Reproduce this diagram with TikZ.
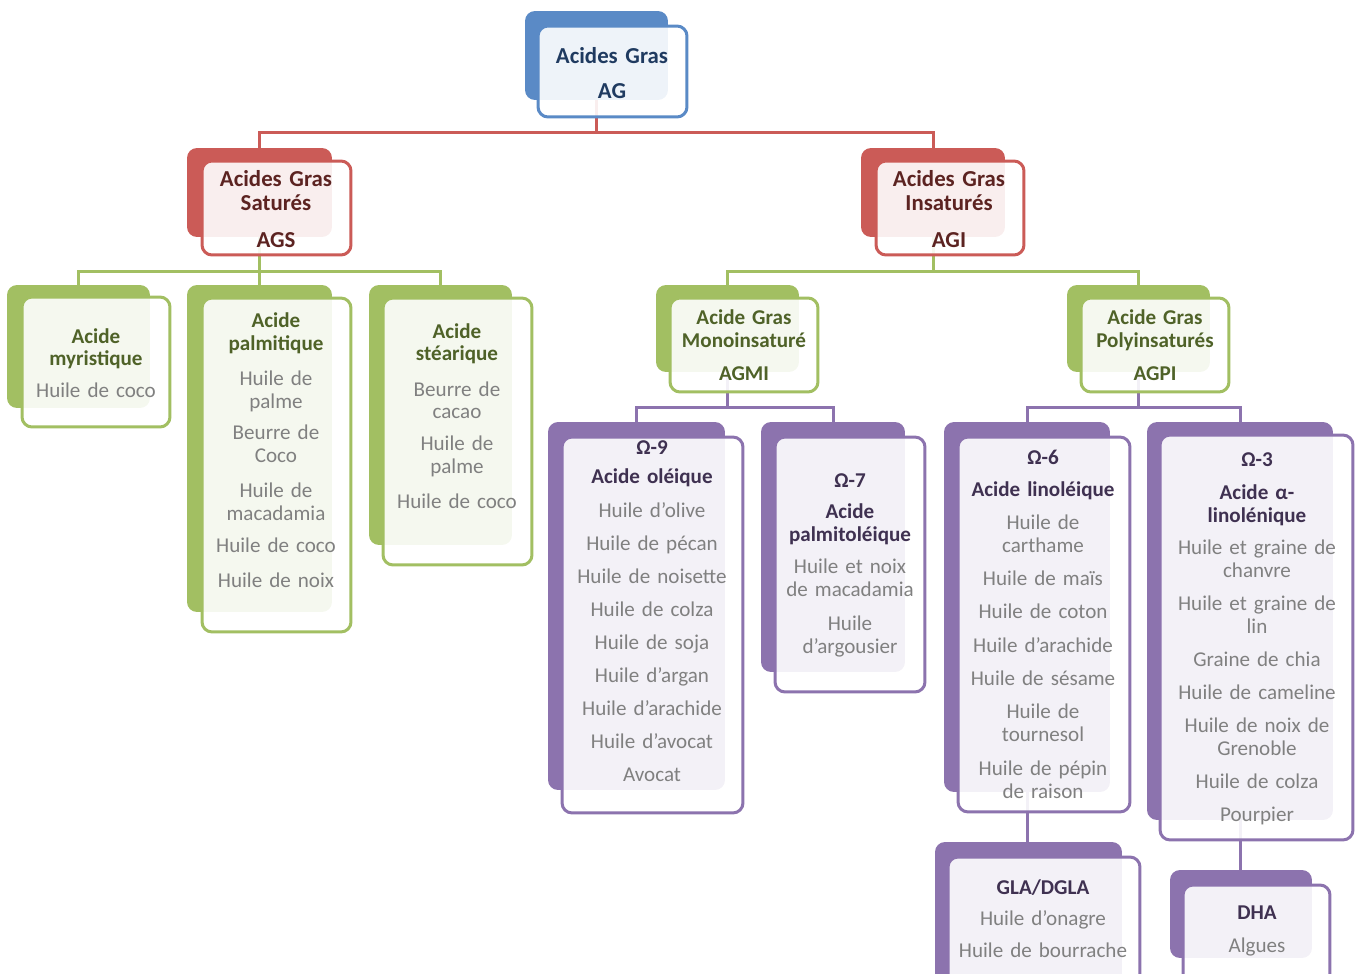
\documentclass[tikz,border=0pt]{standalone}
\usepackage{fontspec}
\setmainfont{Carlito}
\usepackage{tikz}
\definecolor{agblue}{HTML}{5A8AC6}
\definecolor{agred}{HTML}{CB5B57}
\definecolor{aggreen}{HTML}{A2BF62}
\definecolor{agviolet}{HTML}{8C73AE}
\definecolor{bluetxt}{HTML}{1F3A60}
\definecolor{redtxt}{HTML}{5C2321}
\definecolor{greentxt}{HTML}{4F6228}
\definecolor{violettxt}{HTML}{3F3151}
\definecolor{itemgray}{HTML}{808080}
\tikzstyle{back} = [rectangle, rounded corners = 0.2cm, inner sep = 0pt]
\tikzstyle{front} = [rectangle, rounded corners = 0.2cm, inner sep = 0pt, line width = 0.06cm, fill = white, fill opacity = 0.9]
\tikzstyle{txt} = [text width = 4cm, align = center, inner sep = 0pt, text = itemgray, font = \fontsize{12}{13}\selectfont]
\tikzstyle{toptxt} = [txt, font = \fontsize{13}{14}\selectfont]
\tikzstyle{link} = [line width = 0.06cm]

\begin{document}
\begin{tikzpicture}[x = 0.02cm, y = -0.02cm]
			\useasboundingbox (0, 0) rectangle (1357, 974);
			\clip (0, 0) rectangle (1357, 974);
			% Place nodes
			\node [back, fill = agblue, minimum width = 2.86cm, minimum height = 1.78cm] (ag-b) at (596.5, 55.5) {};
			\node [back, fill = agred, minimum width = 2.90cm, minimum height = 1.78cm] (ags-b) at (259.5, 192.5) {};
			\node [back, fill = agred, minimum width = 2.88cm, minimum height = 1.78cm] (agi-b) at (933, 192.5) {};
			\node [back, fill = aggreen, minimum width = 2.86cm, minimum height = 2.46cm] (myr-b) at (78.5, 346.5) {};
			\node [back, fill = aggreen, minimum width = 2.90cm, minimum height = 6.54cm] (palm-b) at (259.5, 448.5) {};
			\node [back, fill = aggreen, minimum width = 2.86cm, minimum height = 5.20cm] (stea-b) at (440.5, 415) {};
			\node [back, fill = aggreen, minimum width = 2.86cm, minimum height = 1.74cm] (agmi-b) at (727.5, 328.5) {};
			\node [back, fill = aggreen, minimum width = 2.86cm, minimum height = 1.74cm] (agpi-b) at (1138.5, 328.5) {};
			\node [back, fill = agviolet, minimum width = 3.54cm, minimum height = 7.36cm] (o9-b) at (636.5, 606) {};
			\node [back, fill = agviolet, minimum width = 2.88cm, minimum height = 5.00cm] (o7-b) at (833, 547) {};
			\node [back, fill = agviolet, minimum width = 3.32cm, minimum height = 7.40cm] (o6-b) at (1027, 607) {};
			\node [back, fill = agviolet, minimum width = 3.72cm, minimum height = 7.96cm] (o3-b) at (1240, 621) {};
			\node [back, fill = agviolet, minimum width = 3.74cm, minimum height = 2.96cm] (gla-b) at (1028.5, 916) {};
			\node [back, fill = agviolet, minimum width = 2.84cm, minimum height = 1.76cm] (dha-b) at (1241, 914) {};
			% Draw edges
			\path [link, draw = agred] (ag-b.south) -- ++(0, 32) -| (ags-b.north);
			\path [link, draw = agred] (ag-b.south) -- ++(0, 32) -| (agi-b.north);
			\path [link, draw = aggreen] (ags-b.south) -- ++(0, 34) -| (myr-b.north);
			\path [link, draw = aggreen] (ags-b.south) -- ++(0, 34) -| (palm-b.north);
			\path [link, draw = aggreen] (ags-b.south) -- ++(0, 34) -| (stea-b.north);
			\path [link, draw = aggreen] (agi-b.south) -- ++(0, 34) -| (agmi-b.north);
			\path [link, draw = aggreen] (agi-b.south) -- ++(0, 34) -| (agpi-b.north);
			\path [link, draw = agviolet] (agmi-b.south) -- ++(0, 35) -| (o9-b.north);
			\path [link, draw = agviolet] (agmi-b.south) -- ++(0, 35) -| (o7-b.north);
			\path [link, draw = agviolet] (agpi-b.south) -- ++(0, 35) -| (o6-b.north);
			\path [link, draw = agviolet] (agpi-b.south) -- ++(0, 35) -| (o3-b.north);
			\path [link, draw = agviolet] (o6-b.south) -- (o6-b.south |- gla-b.north);
			\path [link, draw = agviolet] (o3-b.south) -- (o3-b.south |- dha-b.north);
			% Front boxes
			\node [front, draw = agblue, minimum width = 2.98cm, minimum height = 1.82cm] (ag) at (612.5, 71.5) {};
			\node [front, draw = agred, minimum width = 2.98cm, minimum height = 1.88cm] (ags) at (276.5, 208) {};
			\node [front, draw = agred, minimum width = 2.96cm, minimum height = 1.88cm] (agi) at (950, 208) {};
			\node [front, draw = aggreen, minimum width = 2.96cm, minimum height = 2.60cm] (myr) at (96, 362) {};
			\node [front, draw = aggreen, minimum width = 2.98cm, minimum height = 6.68cm] (palm) at (276.5, 465) {};
			\node [front, draw = aggreen, minimum width = 2.98cm, minimum height = 5.34cm] (stea) at (457.5, 431.5) {};
			\node [front, draw = aggreen, minimum width = 2.96cm, minimum height = 1.88cm] (agmi) at (744, 345) {};
			\node [front, draw = aggreen, minimum width = 2.96cm, minimum height = 1.88cm] (agpi) at (1155, 345) {};
			\node [front, draw = agviolet, minimum width = 3.62cm, minimum height = 7.52cm] (o9) at (652.5, 625) {};
			\node [front, draw = agviolet, minimum width = 3.00cm, minimum height = 5.10cm] (o7) at (850, 564.5) {};
			\node [front, draw = agviolet, minimum width = 3.44cm, minimum height = 7.50cm] (o6) at (1044, 624.5) {};
			\node [front, draw = agviolet, minimum width = 3.86cm, minimum height = 8.10cm] (o3) at (1256.5, 637.5) {};
			\node [front, draw = agviolet, minimum width = 3.84cm, minimum height = 2.86cm] (gla) at (1044, 928.5) {};
			\node [front, draw = agviolet, minimum width = 2.94cm, minimum height = 2.00cm] (dha) at (1256.5, 935) {};
			% Texts
			\node [toptxt] (ag-t) at (612, 73) {\textcolor{bluetxt}{\bfseries Acides Gras\\[6pt] AG}};
			\node [toptxt] (ags-t) at (276, 209) {\textcolor{redtxt}{\bfseries Acides Gras\\ Saturés\\[7pt] AGS}};
			\node [toptxt] (agi-t) at (949, 209) {\textcolor{redtxt}{\bfseries Acides Gras\\ Insaturés\\[7pt] AGI}};
			\node [txt] (myr-t) at (96, 363) {\textcolor{greentxt}{\bfseries Acide\\ myristique}\\[5pt] Huile de coco};
			\node [txt] (palm-t) at (276, 450) {\textcolor{greentxt}{\bfseries Acide\\ palmitique}\\[7pt] Huile de\\ palme\\[5pt] Beurre de\\ Coco\\[7pt] Huile de\\ macadamia\\[5pt] Huile de coco\\[7pt] Huile de noix};
			\node [txt] (stea-t) at (457, 416) {\textcolor{greentxt}{\bfseries Acide\\ stéarique}\\[7pt] Beurre de\\ cacao\\[5pt] Huile de\\ palme\\[7pt] Huile de coco};
			\node [txt] (agmi-t) at (744, 345) {\textcolor{greentxt}{\bfseries Acide Gras\\ Monoinsaturé\\[6pt] AGMI}};
			\node [txt] (agpi-t) at (1155, 345) {\textcolor{greentxt}{\bfseries Acide Gras\\ Polyinsaturés\\[6pt] AGPI}};
			\node [txt] (o9-t) at (652, 611) {\textcolor{violettxt}{\bfseries Ω-9\\[4pt] Acide oléique}\\[6pt] Huile d’olive\\[5.8pt] Huile de pécan\\[5.8pt] Huile de noisette\\[5.8pt] Huile de colza\\[5.8pt] Huile de soja\\[5.8pt] Huile d’argan\\[5.8pt] Huile d’arachide\\[5.8pt] Huile d’avocat\\[5.8pt] Avocat};
			\node [txt] (o7-t) at (850, 565) {\textcolor{violettxt}{\bfseries Ω-7\\[5pt] Acide\\ palmitoléique}\\[5pt] Huile et noix\\ de macadamia\\[6.5pt] Huile\\ d’argousier};
			\node [txt] (o6-t) at (1043, 624) {\textcolor{violettxt}{\bfseries Ω-6\\[5.5pt] Acide linoléique}\\[5.5pt] Huile de\\ carthame\\[6pt] Huile de maïs\\[6pt] Huile de coton\\[6pt] Huile d’arachide\\[6pt] Huile de sésame\\[6pt] Huile de\\ tournesol\\[6pt] Huile de pépin\\ de raison};
			\node [txt] (o3-t) at (1257, 639) {\textcolor{violettxt}{\bfseries Ω-3\\[5.5pt] Acide α-\\ linolénique}\\[5.5pt] Huile et graine de\\ chanvre\\[5.8pt] Huile et graine de\\ lin\\[5.8pt] Graine de chia\\[5.8pt] Huile de cameline\\[5.8pt] Huile de noix de\\ Grenoble\\[5.8pt] Huile de colza\\[5.8pt] Pourpier};
			\node [txt] (gla-t) at (1043, 918.5) {\textcolor{violettxt}{\bfseries GLA/DGLA}\\[5pt] Huile d’onagre\\[5pt] Huile de bourrache};
			\node [txt] (dha-t) at (1257, 931) {\textcolor{violettxt}{\bfseries DHA}\\[6pt] Algues};
		\end{tikzpicture}
\end{document}
